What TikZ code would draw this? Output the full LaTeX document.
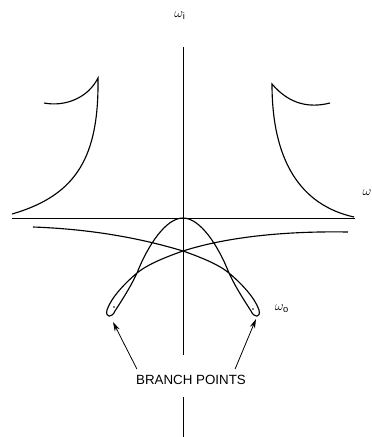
\documentclass[tikz,border=0pt]{standalone}
\usepackage{fontspec}
\setmainfont{Liberation Sans}
\usetikzlibrary{arrows.meta,positioning}
\tikzset{curve/.style={black,line width=0.85pt},
	axis/.style={black,line width=0.7pt},
	lbl/.style={inner sep=0pt,font=\normalsize},
	pointer/.style={-{Stealth[length=7pt,width=4pt]},black,line width=0.6pt}}

\begin{document}
\begin{tikzpicture}[x=0.75pt,y=-0.75pt]
	\useasboundingbox (0,0) rectangle (372,437);
	% axes
	\coordinate (xl) at (12,218);
	\coordinate (xr) at (355,218);
	\coordinate (yt) at (183,47);
	\coordinate (yb) at (183,437);
	\draw[axis] (xl) -- (xr);
	\node[lbl] (bp) at (191,380) {BRANCH POINTS};
	\draw[axis] (yt) -- (183,355);
	\draw[axis] (183,397) -- (yb);
	\node[lbl] (wi) at (180,16) {$\omega_{\mathrm{i}}$};
	\node[lbl] (wr) at (367,193) {$\omega$};
	\node[lbl] (wo) at (282,309) {$\omega_{\mathrm{o}}$};
	
	% upper curves
	\draw[curve] (44,103) .. controls (65,107) and (88,98) .. (98,78)
		.. controls (99,155) and (78,195) .. (12,214);
	\draw[curve] (330,103) .. controls (310,108) and (290,105) .. (272,84)
		.. controls (272,160) and (300,205) .. (354,217);
	
	% lower curve with the two loops
	\draw[curve] (33,227) .. controls (90,229) and (140,238) .. (183,251)
		.. controls (200,257) and (218,264) .. (229,273)
		.. controls (242,284) and (255,298) .. (259,310)
		.. controls (261,318) and (254,318) .. (251,311)
		.. controls (244,300) and (236,288) .. (229,273)
		.. controls (218,245) and (200,218) .. (183,218)
		.. controls (166,218) and (148,245) .. (137,273)
		.. controls (130,288) and (122,300) .. (115,311)
		.. controls (112,318) and (105,318) .. (107,310)
		.. controls (111,298) and (124,284) .. (137,273)
		.. controls (148,264) and (166,257) .. (183,251)
		.. controls (230,236) and (290,231) .. (348,232);
	\fill (114,307) circle (0.8);
	\fill (253,309) circle (0.8);
	
	% pointers
	\coordinate (bl) at (113,322);
	\coordinate (br) at (256,319);
	\draw[pointer] (bp.north west) ++(1,-6) -- (bl);
	\draw[pointer] (bp.north east) ++(-11,-6) -- (br);
\end{tikzpicture}
\end{document}
